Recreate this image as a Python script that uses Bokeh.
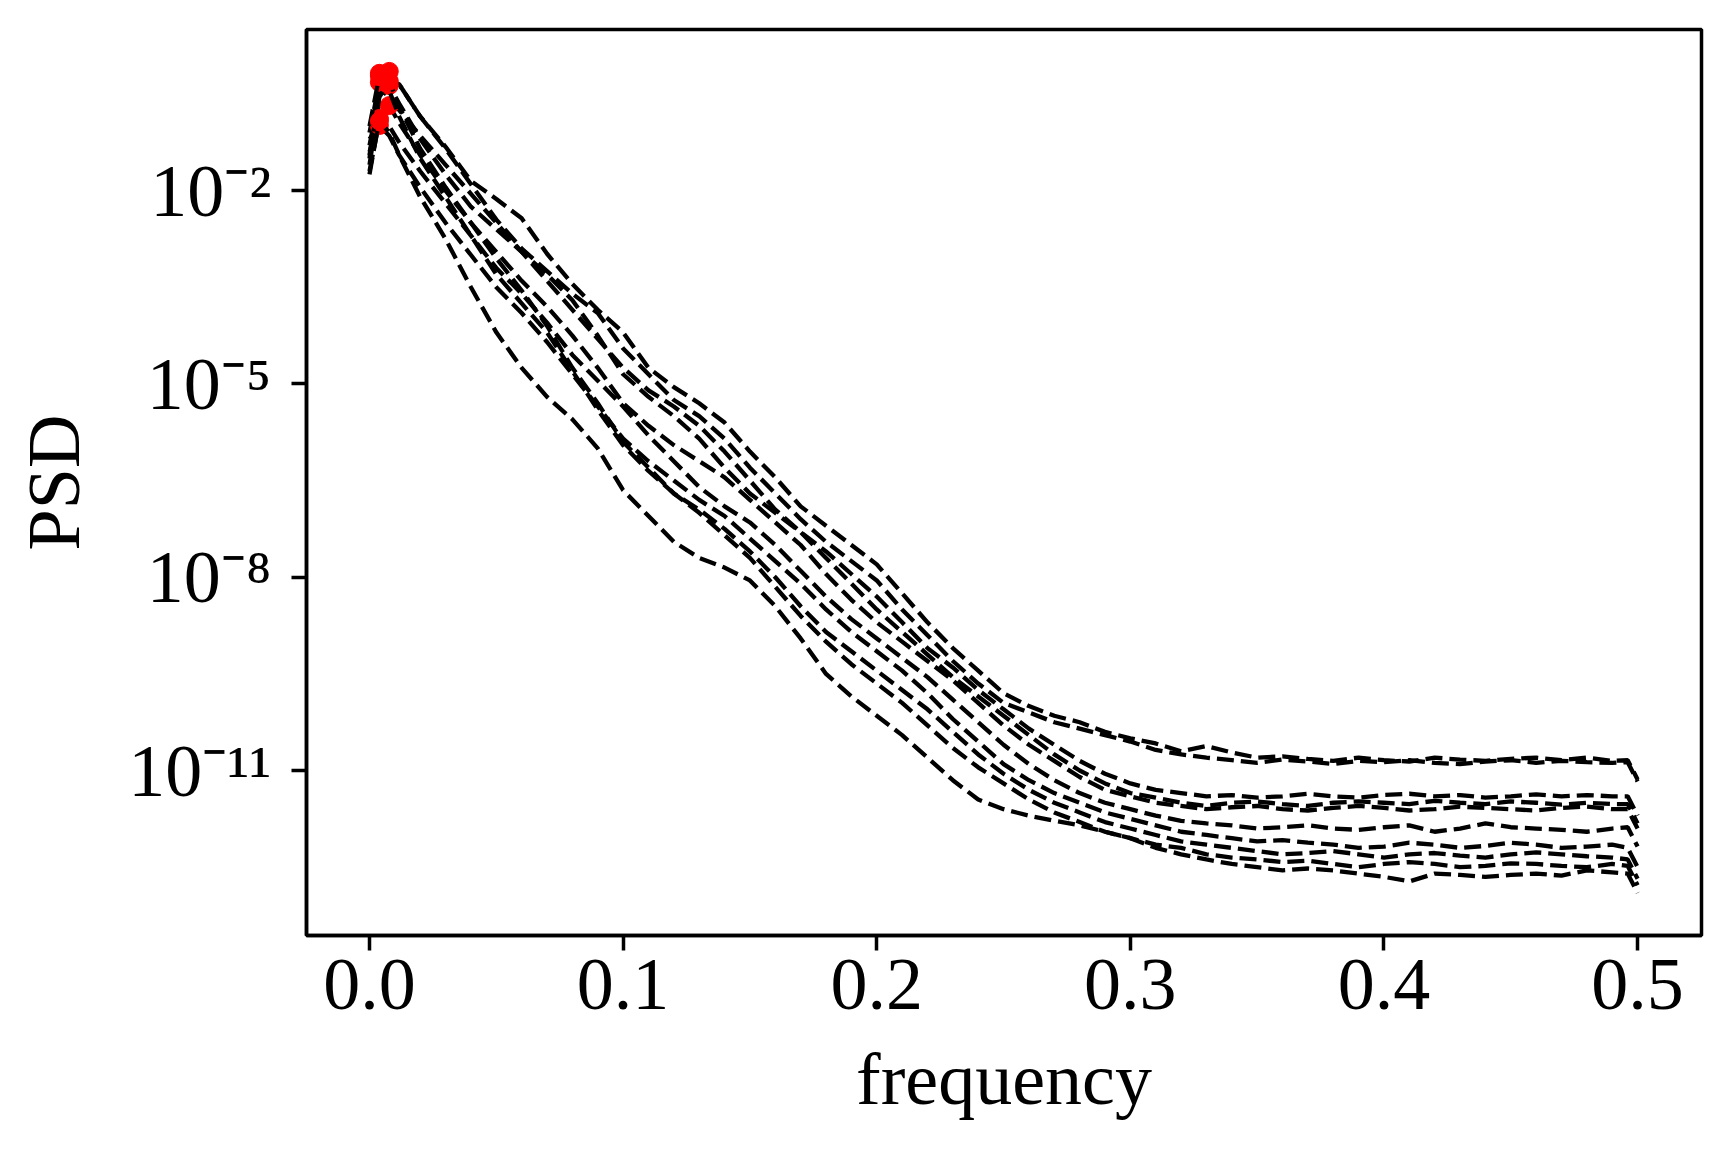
import numpy as np
from bokeh.plotting import figure
from bokeh.models import Range1d, FixedTicker, CustomJSTickFormatter
from bokeh.embed import file_html
from bokeh.resources import INLINE

# frequency grid (cycles / sample)
FREQ = [0.0, 0.0039, 0.0078, 0.0117,
        0.02, 0.03, 0.04, 0.05, 0.06, 0.07, 0.08, 0.09, 0.10, 0.11,
        0.12, 0.13, 0.14, 0.15, 0.16, 0.17, 0.18, 0.19, 0.20, 0.21,
        0.22, 0.23, 0.24, 0.25, 0.26, 0.27, 0.28, 0.29, 0.30, 0.31,
        0.32, 0.33, 0.34, 0.35, 0.36, 0.37, 0.38, 0.39, 0.40, 0.41,
        0.42, 0.43, 0.44, 0.45, 0.46, 0.47, 0.48, 0.49,
        0.4961, 0.5]

# log10(PSD) of each series
LOG_PSD_1 = [-1.3, -0.5, -0.15, -0.35,
             -0.85, -1.32, -1.85, -2.13, -2.43, -2.98, -3.45, -3.85, -4.2, -4.75,
             -5.05, -5.3, -5.6, -6.05, -6.45, -6.9, -7.2, -7.5, -7.8, -8.25,
             -8.7, -9.1, -9.45, -9.8, -10.0, -10.15, -10.25, -10.4, -10.5, -10.58,
             -10.7, -10.62, -10.72, -10.8, -10.78, -10.82, -10.85, -10.8, -10.84, -10.86,
             -10.8, -10.83, -10.85, -10.82, -10.8, -10.84, -10.8, -10.85,
             -10.84, -11.14]
LOG_PSD_2 = [-1.5, -0.18, -0.3, -0.35,
             -0.85, -1.35, -1.9, -2.45, -2.9, -3.25, -3.6, -3.9, -4.45, -4.85,
             -5.25, -5.5, -5.85, -6.3, -6.7, -7.1, -7.45, -7.75, -8.05, -8.5,
             -8.9, -9.3, -9.65, -9.95, -10.1, -10.25, -10.35, -10.45, -10.55, -10.68,
             -10.75, -10.8, -10.84, -10.88, -10.83, -10.86, -10.9, -10.85, -10.87, -10.84,
             -10.88, -10.9, -10.86, -10.84, -10.88, -10.85, -10.87, -10.88,
             -10.87, -11.17]
LOG_PSD_3 = [-1.1, -0.32, -0.5, -0.75,
             -1.15, -1.6, -2.05, -2.5, -2.95, -3.4, -3.85, -4.3, -4.75, -5.1,
             -5.35, -5.65, -6.05, -6.5, -6.95, -7.3, -7.6, -7.95, -8.3, -8.7,
             -9.1, -9.4, -9.75, -10.05, -10.35, -10.6, -10.85, -11.05, -11.2, -11.3,
             -11.35, -11.4, -11.38, -11.42, -11.4, -11.36, -11.4, -11.42, -11.38, -11.36,
             -11.4, -11.38, -11.42, -11.4, -11.37, -11.4, -11.38, -11.4,
             -11.4, -11.7]
LOG_PSD_4 = [-1.6, -0.6, -0.37, -0.65,
             -1.2, -1.75, -2.25, -2.6, -2.95, -3.3, -3.7, -4.25, -4.85, -5.2,
             -5.5, -5.85, -6.3, -6.7, -7.0, -7.3, -7.7, -8.1, -8.5, -8.85,
             -9.2, -9.55, -9.85, -10.15, -10.45, -10.75, -11.0, -11.2, -11.35, -11.42,
             -11.5, -11.55, -11.5, -11.48, -11.52, -11.55, -11.5, -11.48, -11.5, -11.52,
             -11.47, -11.5, -11.52, -11.48, -11.5, -11.53, -11.5, -11.52,
             -11.52, -11.82]
LOG_PSD_5 = [-1.4, -0.9, -0.68, -0.95,
             -1.45, -2.0, -2.5, -2.95, -3.4, -3.8, -4.25, -4.75, -5.3, -5.65,
             -5.95, -6.2, -6.45, -6.8, -7.15, -7.5, -7.95, -8.35, -8.7, -9.0,
             -9.3, -9.6, -9.95, -10.3, -10.6, -10.85, -11.1, -11.3, -11.4, -11.5,
             -11.55, -11.6, -11.57, -11.55, -11.6, -11.62, -11.58, -11.55, -11.58, -11.62,
             -11.6, -11.56, -11.58, -11.6, -11.62, -11.58, -11.56, -11.6,
             -11.6, -11.9]
LOG_PSD_6 = [-1.75, -0.88, -1.0, -1.25,
             -1.7, -2.2, -2.7, -3.2, -3.6, -4.05, -4.55, -4.95, -5.35, -5.8,
             -6.2, -6.6, -6.9, -7.15, -7.5, -7.9, -8.3, -8.65, -8.95, -9.25,
             -9.55, -9.9, -10.25, -10.6, -10.9, -11.15, -11.35, -11.5, -11.6, -11.7,
             -11.78, -11.82, -11.85, -11.9, -11.88, -11.85, -11.9, -11.92, -11.88, -11.85,
             -11.95, -11.9, -11.82, -11.88, -11.9, -11.92, -11.95, -11.9,
             -11.88, -12.18]
LOG_PSD_7 = [-1.2, -0.99, -1.15, -1.45,
             -1.95, -2.5, -3.0, -3.5, -3.9, -4.35, -4.85, -5.35, -5.85, -6.2,
             -6.5, -6.8, -7.05, -7.4, -7.75, -8.1, -8.5, -8.85, -9.15, -9.45,
             -9.8, -10.2, -10.55, -10.9, -11.15, -11.35, -11.5, -11.65, -11.75, -11.85,
             -11.95, -12.0, -12.05, -12.1, -12.08, -12.12, -12.15, -12.2, -12.18, -12.12,
             -12.15, -12.2, -12.17, -12.12, -12.15, -12.2, -12.18, -12.15,
             -12.2, -12.5]
LOG_PSD_8 = [-1.0, -0.22, -0.45, -0.85,
             -1.5, -2.1, -2.7, -3.3, -3.75, -4.2, -4.8, -5.4, -5.95, -6.35,
             -6.7, -6.95, -7.25, -7.6, -8.0, -8.45, -8.85, -9.15, -9.45, -9.75,
             -10.05, -10.4, -10.75, -11.05, -11.3, -11.5, -11.65, -11.8, -11.9, -12.0,
             -12.1, -12.15, -12.2, -12.25, -12.3, -12.28, -12.25, -12.3, -12.35, -12.3,
             -12.28, -12.32, -12.35, -12.3, -12.27, -12.3, -12.33, -12.35,
             -12.38, -12.68]
LOG_PSD_9 = [-1.45, -0.55, -0.3, -0.7,
             -1.35, -1.95, -2.5, -3.05, -3.55, -4.1, -4.75, -5.3, -5.9, -6.3,
             -6.7, -7.0, -7.35, -7.7, -8.15, -8.6, -9.0, -9.35, -9.65, -9.95,
             -10.3, -10.65, -10.95, -11.2, -11.45, -11.65, -11.8, -11.95, -12.05, -12.15,
             -12.2, -12.3, -12.35, -12.38, -12.42, -12.4, -12.45, -12.5, -12.45, -12.42,
             -12.45, -12.5, -12.48, -12.44, -12.45, -12.48, -12.5, -12.45,
             -12.48, -12.78]
LOG_PSD_10 = [-1.7, -0.92, -1.1, -1.45,
              -2.1, -2.75, -3.5, -4.2, -4.75, -5.2, -5.55, -6.0, -6.65, -7.05,
              -7.45, -7.7, -7.85, -8.05, -8.45, -8.95, -9.5, -9.85, -10.15, -10.45,
              -10.8, -11.15, -11.45, -11.6, -11.7, -11.78, -11.85, -11.95, -12.05, -12.2,
              -12.3, -12.38, -12.45, -12.5, -12.55, -12.52, -12.55, -12.6, -12.65, -12.72,
              -12.6, -12.62, -12.65, -12.62, -12.6, -12.63, -12.55, -12.58,
              -12.6, -12.9]

SERIES = [LOG_PSD_1, LOG_PSD_2, LOG_PSD_3, LOG_PSD_4, LOG_PSD_5,
          LOG_PSD_6, LOG_PSD_7, LOG_PSD_8, LOG_PSD_9, LOG_PSD_10]

X_TICKS = [0.0, 0.1, 0.2, 0.3, 0.4, 0.5]
X_TICK_LABELS = ["0.0", "0.1", "0.2", "0.3", "0.4", "0.5"]
Y_TICKS = [1e-11, 1e-8, 1e-5, 1e-2]
Y_TICK_LABELS = ["10\u207b\u00b9\u00b9", "10\u207b\u2078", "10\u207b\u2075", "10\u207b\u00b2"]
X_LABEL = "frequency"
Y_LABEL = "PSD"

FONT = "Liberation Serif"

p = figure(frame_width=1395, frame_height=906, y_axis_type="log",
           x_range=Range1d(-0.02484, 0.5252),
           y_range=Range1d(10 ** -13.56, 10 ** 0.5),
           output_backend="svg", toolbar_location=None,
           min_border_left=306, min_border_right=10, min_border_top=29,
           min_border_bottom=190,
           background_fill_color="white", border_fill_color="white")

p.grid.visible = False
p.outline_line_color = "black"
p.outline_line_width = 3.5

freq = np.array(FREQ)
for s in SERIES:
    psd = 10 ** np.array(s)
    p.line(freq, psd, line_color="black", line_width=4.3, line_dash="17 7")
    k = int(np.argmax(psd))
    p.scatter([freq[k]], [psd[k]], size=18, marker="circle",
              fill_color="red", line_color="red")

p.xaxis.ticker = FixedTicker(ticks=X_TICKS, minor_ticks=[])
p.xaxis.formatter = CustomJSTickFormatter(
    args=dict(vals=X_TICKS, labels=X_TICK_LABELS),
    code="const i = vals.findIndex(v => Math.abs(v - tick) < 1e-9); return i >= 0 ? labels[i] : '';")
p.yaxis.ticker = FixedTicker(ticks=Y_TICKS, minor_ticks=[])
p.yaxis.formatter = CustomJSTickFormatter(
    args=dict(vals=Y_TICKS, labels=Y_TICK_LABELS),
    code="const i = vals.findIndex(v => Math.abs(Math.log10(v) - Math.log10(tick)) < 1e-6); return i >= 0 ? labels[i] : '';")

for ax in (p.xaxis[0], p.yaxis[0]):
    ax.axis_line_color = "black"
    ax.axis_line_width = 3.5
    ax.major_tick_line_color = "black"
    ax.major_tick_line_width = 3.5
    ax.major_tick_out = 15
    ax.major_tick_in = 0
    ax.minor_tick_line_color = None
    ax.major_label_text_font = FONT
    ax.major_label_text_font_size = "74px"
    ax.major_label_text_color = "black"
    ax.axis_label_text_font = FONT
    ax.axis_label_text_font_size = "74px"
    ax.axis_label_text_font_style = "normal"
    ax.axis_label_text_color = "black"

p.xaxis.axis_label = X_LABEL
p.yaxis.axis_label = Y_LABEL
p.xaxis.major_label_standoff = 9
p.yaxis.major_label_standoff = 20
p.xaxis.axis_label_standoff = 26
p.yaxis.axis_label_standoff = 30

open("out.html", "w").write(file_html(p, INLINE))
